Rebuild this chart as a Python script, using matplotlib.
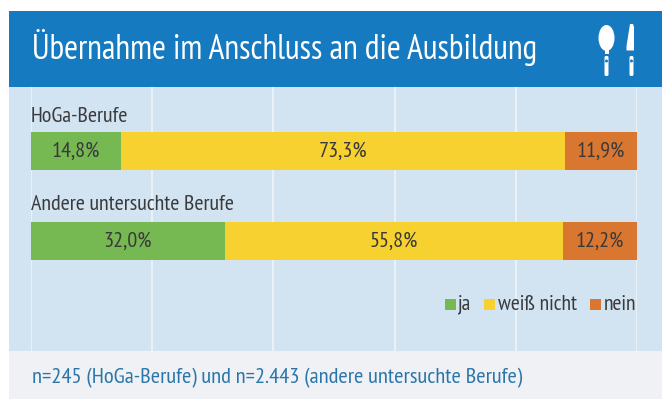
import matplotlib
matplotlib.use("Agg")
import matplotlib.pyplot as plt
from matplotlib.patches import Rectangle, Ellipse, FancyBboxPatch, Polygon

plt.rcParams['font.family'] = ['PT Sans Narrow', 'Lato', 'DejaVu Sans']

title = "Übernahme im Anschluss an die Ausbildung"
footnote = "n=245 (HoGa-Berufe) und n=2.443 (andere untersuchte Berufe)"
categories = ["HoGa-Berufe", "Andere untersuchte Berufe"]
series_names = ["ja", "weiß nicht", "nein"]
ja = [14.8, 32.0]
weiss_nicht = [73.3, 55.8]
nein = [11.9, 12.2]
colors = ["#76b852", "#f6d12f", "#d97731"]

W, H = 662, 399
fig = plt.figure(figsize=(W / 100, H / 100), dpi=100, facecolor="white")

# background in pixel coordinates
bg = fig.add_axes([0, 0, 1, 1])
bg.set_xlim(0, W)
bg.set_ylim(H, 0)
bg.axis("off")
bg.add_patch(Rectangle((9, 11), W - 9, 76, color="#167ac0", lw=0))
bg.add_patch(Rectangle((9, 87), W - 9, 264, color="#d2e4f2", lw=0))
bg.add_patch(Rectangle((9, 351), W - 9, 48, color="#eff1f4", lw=0))
bg.text(32, 48, title, color="white", fontsize=24.2, va="center", ha="left")
bg.text(32, 378, footnote, color="#2a76ab", fontsize=16.2, va="center", ha="left")

# spoon and knife
bg.add_patch(Ellipse((606.5, 38), 16, 26, color="white", lw=0))
bg.add_patch(Rectangle((604.5, 48), 4, 6, color="white", lw=0))
bg.add_patch(FancyBboxPatch((604.5, 56), 4, 20, boxstyle="round,pad=0,rounding_size=1.5", color="white", lw=0))
bg.add_patch(Ellipse((606.5, 61), 3, 3, color="#167ac0", lw=0))
bg.add_patch(Polygon([[630, 24], [633, 24], [634, 27], [634, 50.5], [626.5, 50.5], [626.5, 46]], color="white", lw=0))
bg.add_patch(FancyBboxPatch((629.5, 56), 4, 20, boxstyle="round,pad=0,rounding_size=1.5", color="white", lw=0))
bg.add_patch(Ellipse((631.5, 61), 3, 3, color="#167ac0", lw=0))

# chart area 31..637 px wide, 87..351 px high
ax = fig.add_axes([31 / W, (H - 351) / H, 606 / W, 264 / H])
ax.patch.set_alpha(0)
ax.set_xlim(0, 100)
ax.set_ylim(351, 87)
ax.set_xticks([0, 20, 40, 60, 80, 100])
ax.tick_params(length=0, labelbottom=False, labelleft=False)
ax.set_yticks([])
ax.xaxis.grid(True, color="#eef4f9", lw=1.2)
ax.set_axisbelow(True)
for s in ax.spines.values():
    s.set_visible(False)

bar_y = [151, 241]
label_y = [116, 205]
bar_h = 38
text_col = "#3a3a3c"
left = [0, 0]
for vals, col in zip([ja, weiss_nicht, nein], colors):
    ax.barh(bar_y, vals, height=bar_h, left=left, color=col, lw=0)
    for i, v in enumerate(vals):
        ax.text(left[i] + v / 2, bar_y[i], f"{v:.1f}%".replace(".", ","), ha="center", va="center",
                color=text_col, fontsize=16)
    left = [a + b for a, b in zip(left, vals)]
for i, c in enumerate(categories):
    ax.text(0, label_y[i], c, ha="left", va="center", color=text_col, fontsize=15.8)

# legend
leg_x = [445, 484, 590]
leg_tx = [458, 498, 604]
for col, x0 in zip(colors, leg_x):
    bg.add_patch(Rectangle((x0, 299), 10.5, 10.5, color=col, lw=0))
for nm, tx in zip(series_names, leg_tx):
    ax.text((tx - 31) / 6.06, 304, nm, color=text_col, fontsize=15.7, ha="left", va="center")
bg.set_zorder(0)
ax.set_zorder(1)

fig.savefig("out.png", dpi=100)
